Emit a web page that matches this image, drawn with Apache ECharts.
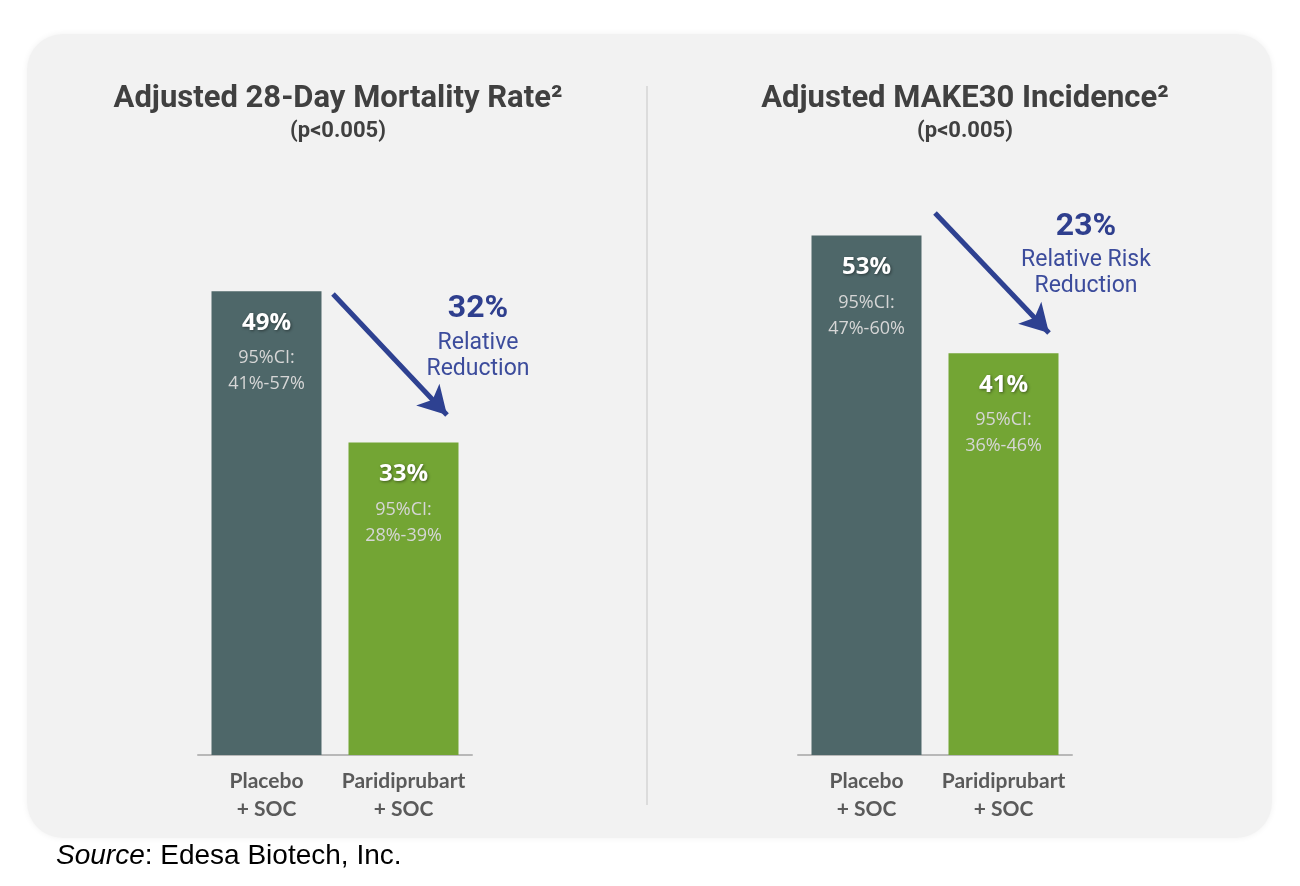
<!DOCTYPE html>
<html>
<head>
<meta charset="utf-8">
<script src="https://cdn.jsdelivr.net/npm/echarts@6/dist/echarts.min.js"></script>
<style>
html, body { margin: 0; padding: 0; background: #ffffff; }
#main { width: 1300px; height: 886px; }
</style>
</head>
<body>
<div id="main"></div>
<script>
// data
var categories = ['Placebo\n+ SOC', 'Paridiprubart\n+ SOC'];
var mortalityValues = [49, 33];
var mortalityCI = ['41%-57%', '28%-39%'];
var make30Values = [53, 41];
var make30CI = ['47%-60%', '36%-46%'];
var barColors = ['#4e6769', '#73a534'];

var chart = echarts.init(document.getElementById('main'));

function barData(values, ci) {
    return values.map(function (v, i) {
        return {
            value: v,
            itemStyle: { color: barColors[i] },
            label: { formatter: '{v|' + v + '%}\n{c|95%CI:}\n{c|' + ci[i] + '}' }
        };
    });
}

var barLabel = {
    show: true,
    position: 'insideTop',
    distance: 10,
    align: 'center',
    rich: {
        v: {
            fontFamily: 'Open Sans', fontWeight: 'bold', fontSize: 24, color: '#ffffff',
            lineHeight: 44, textShadowColor: 'rgba(0,0,0,0.45)', textShadowBlur: 3,
            textShadowOffsetX: 1, textShadowOffsetY: 1
        },
        c: { fontFamily: 'Open Sans', fontSize: 18, color: '#d6d6d6', lineHeight: 26 }
    }
};

var xAxisStyle = {
    type: 'category',
    data: categories,
    axisLine: { lineStyle: { color: '#b8b8b8', width: 2 } },
    axisTick: { show: false },
    axisLabel: {
        interval: 0,
        fontFamily: 'Lato', fontWeight: 'bold', fontSize: 21, color: '#5a5a5a',
        lineHeight: 28, margin: 12
    }
};

var option = {
    backgroundColor: '#ffffff',
    graphic: [
        {
            type: 'rect', z: -10,
            shape: { x: 27, y: 34, width: 1245, height: 804, r: 36 },
            style: { fill: '#f2f2f2', shadowColor: 'rgba(0,0,0,0.06)', shadowBlur: 6 }
        },
        {
            type: 'line', z: -5,
            shape: { x1: 647, y1: 86, x2: 647, y2: 805 },
            style: { stroke: '#d4d4d4', lineWidth: 1.5 }
        },
        {
            type: 'text', left: 56, top: 842,
            style: {
                text: '{i|Source}: Edesa Biotech, Inc.',
                fontFamily: 'Liberation Sans', fontSize: 28, fill: '#000000',
                rich: { i: { fontFamily: 'Liberation Sans', fontStyle: 'italic', fontSize: 28, fill: '#000000' } }
            }
        },
        // arrows and relative reduction notes
        {
            type: 'text', x: 478, y: 309,
            style: { text: '32%', fontFamily: 'Roboto', fontWeight: 'bold', fontSize: 32, fill: '#2f3f8e', align: 'center', verticalAlign: 'middle' }
        },
        {
            type: 'text', x: 478, y: 356,
            style: { text: 'Relative\nReduction', fontFamily: 'Roboto', fontSize: 23, lineHeight: 26, fill: '#3c4c9c', align: 'center', verticalAlign: 'middle' }
        },
        {
            type: 'text', x: 1086, y: 227,
            style: { text: '23%', fontFamily: 'Roboto', fontWeight: 'bold', fontSize: 32, fill: '#2f3f8e', align: 'center', verticalAlign: 'middle' }
        },
        {
            type: 'text', x: 1086, y: 273,
            style: { text: 'Relative Risk\nReduction', fontFamily: 'Roboto', fontSize: 23, lineHeight: 26, fill: '#3c4c9c', align: 'center', verticalAlign: 'middle' }
        }
    ],
    title: [
        {
            text: 'Adjusted 28-Day Mortality Rate²',
            subtext: '(p<0.005)',
            left: 333, top: 79, textAlign: 'center', itemGap: 5,
            textStyle: { fontFamily: 'Roboto', fontWeight: 'bold', fontSize: 31, color: '#404040' },
            subtextStyle: { fontFamily: 'Roboto', fontWeight: 'bold', fontSize: 22, color: '#404040' }
        },
        {
            text: 'Adjusted MAKE30 Incidence²',
            subtext: '(p<0.005)',
            left: 960, top: 79, textAlign: 'center', itemGap: 5,
            textStyle: { fontFamily: 'Roboto', fontWeight: 'bold', fontSize: 31, color: '#404040' },
            subtextStyle: { fontFamily: 'Roboto', fontWeight: 'bold', fontSize: 22, color: '#404040' }
        }
    ],
    grid: [
        { left: 198, width: 274, top: 187, height: 568 },
        { left: 798, width: 274, top: 167, height: 588 }
    ],
    xAxis: [
        Object.assign({ gridIndex: 0 }, xAxisStyle),
        Object.assign({ gridIndex: 1 }, xAxisStyle)
    ],
    yAxis: [
        { gridIndex: 0, type: 'value', min: 0, max: 60, show: false, splitLine: { show: false } },
        { gridIndex: 1, type: 'value', min: 0, max: 60, show: false, splitLine: { show: false } }
    ],
    series: [
        {
            type: 'bar', xAxisIndex: 0, yAxisIndex: 0, barWidth: 110,
            data: barData(mortalityValues, mortalityCI),
            label: barLabel,
            markLine: {
                silent: true,
                symbol: ['none', 'arrow'],
                symbolSize: [24, 28],
                label: { show: false },
                lineStyle: { color: '#2e4191', width: 5, type: 'solid' },
                data: [[{ x: 333, y: 294 }, { x: 447, y: 415 }]]
            }
        },
        {
            type: 'bar', xAxisIndex: 1, yAxisIndex: 1, barWidth: 110,
            data: barData(make30Values, make30CI),
            label: barLabel,
            markLine: {
                silent: true,
                symbol: ['none', 'arrow'],
                symbolSize: [24, 28],
                label: { show: false },
                lineStyle: { color: '#2e4191', width: 5, type: 'solid' },
                data: [[{ x: 935, y: 213 }, { x: 1049, y: 333 }]]
            }
        }
    ]
};

chart.setOption(option);
window.onresize = chart.resize;
</script>
</body>
</html>
